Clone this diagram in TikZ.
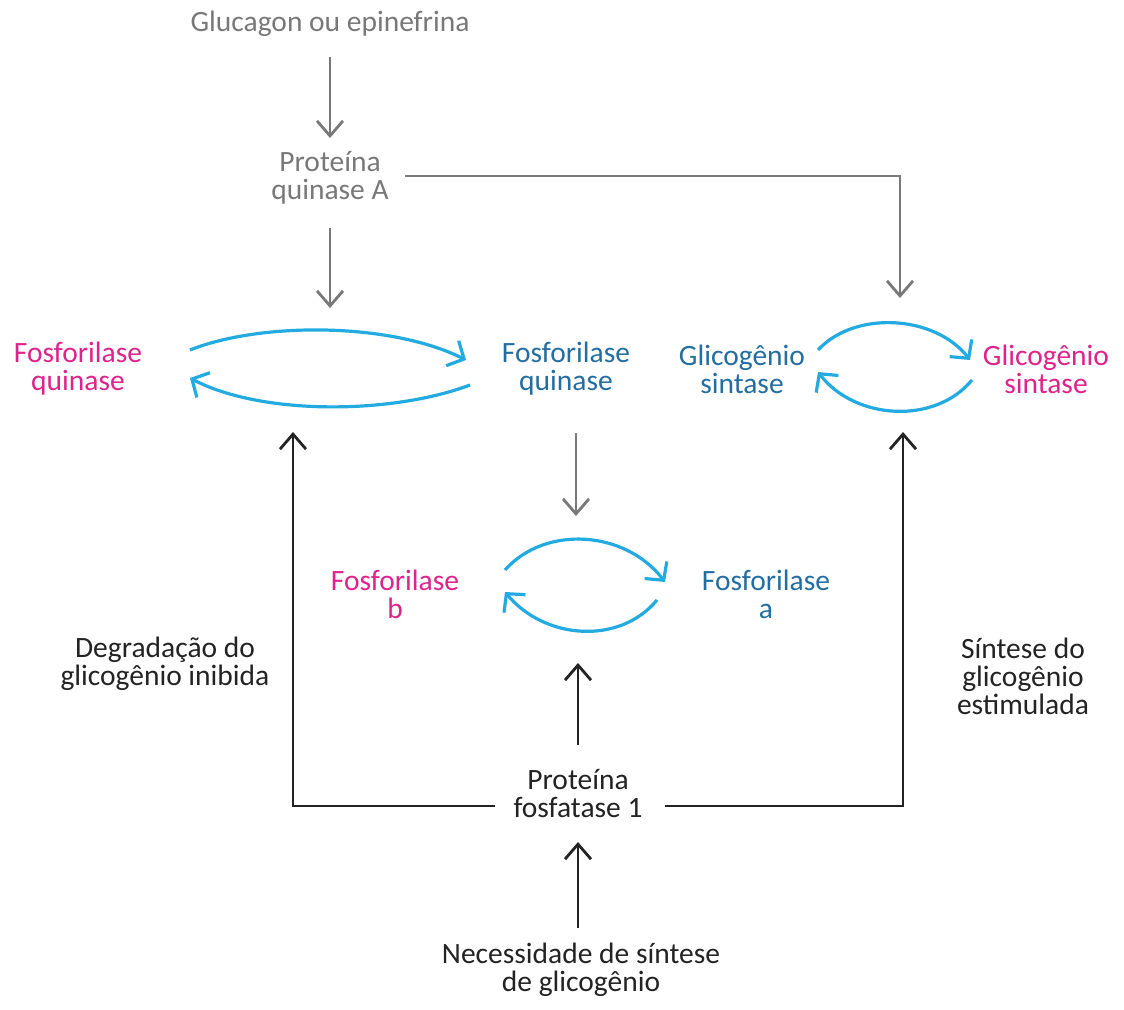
\documentclass[tikz,border=0pt]{standalone}
\usepackage{fontspec}
\setmainfont{Carlito}
\usetikzlibrary{arrows.meta}
\definecolor{gtxt}{RGB}{120,120,120}
\definecolor{mag}{RGB}{222,35,140}
\definecolor{btxt}{RGB}{35,110,160}
\definecolor{barr}{RGB}{35,170,225}
\definecolor{ktxt}{RGB}{35,35,35}
\tikzset{
  lbl/.style={align=center,inner sep=0pt,font=\fontsize{29.5}{28}\selectfont},
  garrow/.style={draw=gtxt,line width=2.8pt,-{Straight Barb[length=15pt,width=26pt,line width=2.8pt]}},
  karrow/.style={draw=ktxt,line width=2.8pt,-{Straight Barb[length=15pt,width=26pt,line width=2.8pt]}},
  barrow/.style={draw=barr,line width=3.2pt,-{Straight Barb[length=13pt,width=28pt,line width=3.2pt]}},
}
\begin{document}
\begin{tikzpicture}[x=1pt,y=-1pt]
\useasboundingbox (0,0) rectangle (1124,1009);
% nodes
\node[lbl,text=gtxt] (glu) at (330,24) {Glucagon ou epinefrina};
\node[lbl,text=gtxt] (pka) at (330,178) {Proteína\\quinase A};
\node[lbl,text=mag] (fqm) at (78,369) {Fosforilase\\quinase};
\node[lbl,text=btxt] (fqb) at (566,369) {Fosforilase\\quinase};
\node[lbl,text=btxt] (gsb) at (742,369) {Glicogênio\\sintase};
\node[lbl,text=mag] (gsm) at (1046,369) {Glicogênio\\sintase};
\node[lbl,text=mag] (fb) at (395,594) {Fosforilase\\b};
\node[lbl,text=btxt] (fa) at (766,594) {Fosforilase\\a};
\node[lbl,text=ktxt] (pp1) at (578,794) {Proteína\\fosfatase 1};
\node[lbl,text=ktxt] (deg) at (165,664) {Degradação do\\glicogênio inibida};
\node[lbl,text=ktxt] (sin) at (1023,676) {Síntese do\\glicogênio\\estimulada};
\node[lbl,text=ktxt] (nec) at (581,970) {Necessidade de síntese\\de glicogênio};
% coordinates
\coordinate (a1) at (330,57);  \coordinate (a2) at (330,138);
\coordinate (b1) at (330,228); \coordinate (b2) at (330,308);
\coordinate (c1) at (405,176); \coordinate (c2) at (900,298);
\coordinate (d1) at (576,433); \coordinate (d2) at (576,516);
\coordinate (e1) at (578,745); \coordinate (e2) at (578,663);
\coordinate (f1) at (578,928); \coordinate (f2) at (578,842);
\coordinate (g1) at (495,806); \coordinate (g2) at (293,432);
\coordinate (h1) at (665,806); \coordinate (h2) at (903,432);
% gray arrows
\draw[garrow] (a1) -- (a2);
\draw[garrow] (b1) -- (b2);
\draw[garrow] (c1) -| (c2);
\draw[garrow] (d1) -- (d2);
% black arrows
\draw[karrow] (e1) -- (e2);
\draw[karrow] (f1) -- (f2);
\draw[karrow] (g1) -| (g2);
\draw[karrow] (h1) -| (h2);
% blue cycles
\draw[barrow] (190,350) .. controls (260,322) and (390,322) .. (466,360);
\draw[barrow] (470,385) .. controls (390,415) and (260,415) .. (190,378);
\draw[barrow] (818,350) .. controls (855,310) and (935,315) .. (970,360);
\draw[barrow] (972,380) .. controls (935,425) and (855,420) .. (818,372);
\draw[barrow] (505,570) .. controls (545,525) and (625,530) .. (665,582);
\draw[barrow] (657,600) .. controls (620,645) and (545,640) .. (505,592);
\end{tikzpicture}
\end{document}
